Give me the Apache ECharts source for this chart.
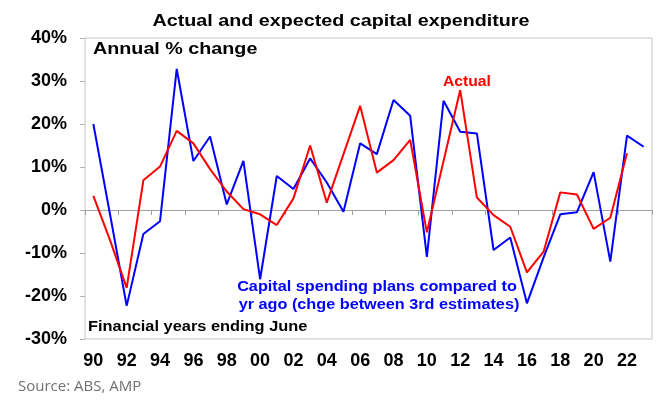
<!DOCTYPE html>
<html><head><meta charset="utf-8">
<script src="https://cdn.jsdelivr.net/npm/echarts@6/dist/echarts.min.js"></script>
<style>html,body{margin:0;padding:0;background:#fff}#c{width:662px;height:407px}</style>
</head><body><div id="c"></div>
<script>
const years = ['90','91','92','93','94','95','96','97','98','99','00','01','02','03','04','05','06','07','08','09','10','11','12','13','14','15','16','17','18','19','20','21','22','23'];
const expected = [20,-1,-22.3,-5.6,-2.6,32.8,11.4,17.1,1.3,11.4,-16.1,7.9,4.9,12.0,6.4,-0.4,15.5,13.0,25.6,21.9,-10.9,25.4,18.2,17.8,-9.3,-6.4,-21.7,-11,-1.0,-0.5,8.8,-12.0,17.3,14.7];
const actual = [3.3,-7,-18.1,6.9,10.1,18.4,15.5,9.5,4.3,0.2,-1.0,-3.5,2.7,15.0,1.7,13,24.2,8.7,11.6,16.3,-5.2,11.4,27.9,2.9,-1.2,-3.9,-14.5,-9.7,4.1,3.6,-4.4,-1.8,13.2,null];
const yTicks = {min:-30, max:40, interval:10};

const chart = echarts.init(document.getElementById('c'));
const F = '"Liberation Sans", Arial, sans-serif';
function txt(x, y, text, size, color, align, sx, extra) {
  return Object.assign({type:'text', x:x, y:y, scaleX:sx, style:{text:text, font:'bold '+size+'px '+F, fill:color,
    textAlign:align, textVerticalAlign:'middle'}}, extra||{});
}
chart.setOption({
  animation:false,
  backgroundColor:'#fff',
  grid:{left:85, right:10, top:38, bottom:68, show:true, borderColor:'#c4c4c4', borderWidth:1},
  xAxis:[
    {type:'category', data:years, boundaryGap:true, position:'bottom',
     axisLine:{show:false, onZero:false}, axisTick:{show:false},
     axisLabel:{interval:1, fontFamily:F, fontWeight:'bold', fontSize:18, color:'#000', margin:13}},
    {type:'category', data:years, boundaryGap:true, position:'bottom',
     axisLine:{show:true, onZero:true, lineStyle:{color:'#a0a0a0', width:1}},
     axisTick:{show:true, interval:1, length:5, lineStyle:{color:'#a0a0a0'}},
     axisLabel:{show:false}}
  ],
  yAxis:{type:'value', min:yTicks.min, max:yTicks.max, interval:yTicks.interval,
    splitLine:{show:false}, axisLine:{show:false},
    axisTick:{show:true, inside:false, length:5, lineStyle:{color:'#b0b0b0'}},
    axisLabel:{formatter:'{value}%', fontFamily:F, fontWeight:'bold', fontSize:18, color:'#000', margin:18}},
  graphic:[
    txt(341, 21, 'Actual and expected capital expenditure', 17, '#000', 'center', 1.16),
    txt(93, 49, 'Annual % change', 17, '#000', 'left', 1.16),
    txt(443, 82, 'Actual', 14, '#ff0000', 'left', 1.12),
    txt(377, 287, 'Capital spending plans compared to', 14, '#0000ff', 'center', 1.16),
    txt(379, 305, 'yr ago (chge between 3rd estimates)', 14, '#0000ff', 'center', 1.16),
    txt(88, 327.5, 'Financial years ending June', 14, '#000', 'left', 1.17),
    {type:'text', x:18, y:387, style:{text:'Source: ABS, AMP', font:'15px "Open Sans", sans-serif', fill:'#707070', textVerticalAlign:'middle'}}
  ],
  series:[
    {name:'Expected', type:'line', data:expected, symbol:'none', xAxisIndex:0,
     lineStyle:{color:'#0000ff', width:2}, z:3},
    {name:'Actual', type:'line', data:actual, symbol:'none', xAxisIndex:0,
     lineStyle:{color:'#ff0000', width:2}, z:4}
  ]
});
</script></body></html>
